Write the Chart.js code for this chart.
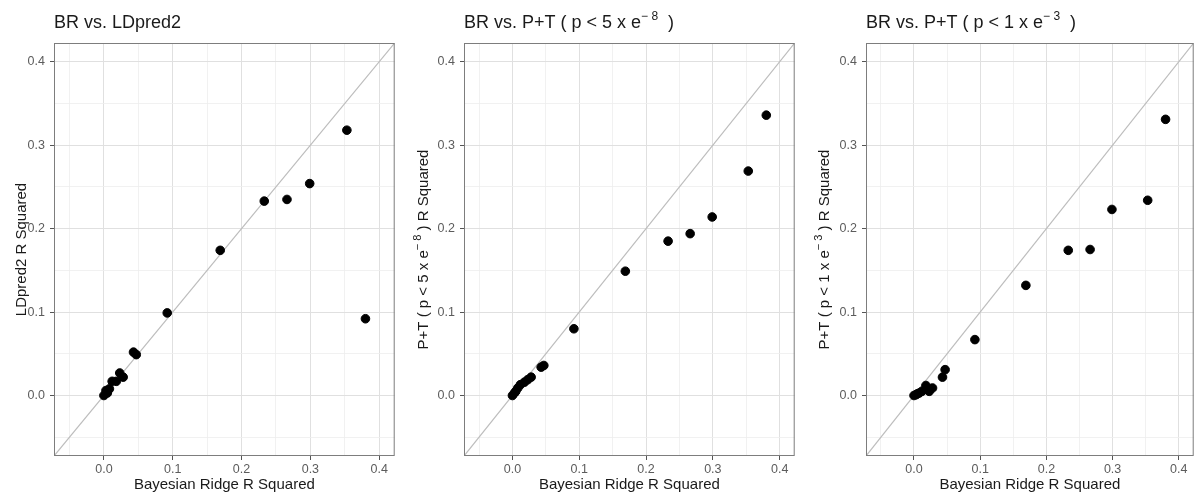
<!DOCTYPE html>
<html>
<head>
<meta charset="utf-8">
<script src="https://cdn.jsdelivr.net/npm/chart.js@4.4.1/dist/chart.umd.min.js"></script>
<style>
  html, body { margin: 0; padding: 0; background: #fff; }
  #wrap { position: relative; width: 1199px; height: 498px; }
  canvas { position: absolute; top: 0; }
</style>
</head>
<body>
<div id="wrap">
  <canvas id="c1" width="400" height="498" style="left:0"></canvas>
  <canvas id="c2" width="400" height="498" style="left:400px"></canvas>
  <canvas id="c3" width="399" height="498" style="left:800px"></canvas>
</div>
<script>
// R squared per trait, Bayesian Ridge on x, the other method on y
const brR2 = [0.380, 0.353, 0.299, 0.266, 0.233, 0.169, 0.092, 0.047, 0.043, 0.028, 0.023, 0.018, 0.012, 0.008, 0.005, 0.003, 0.000];
const ldpred2R2 = [0.092, 0.318, 0.254, 0.235, 0.233, 0.174, 0.099, 0.049, 0.052, 0.022, 0.027, 0.017, 0.017, 0.008, 0.003, 0.006, 0.000];
const pt5e8R2 = [0.336, 0.269, 0.214, 0.194, 0.185, 0.149, 0.080, 0.036, 0.034, 0.022, 0.019, 0.016, 0.013, 0.009, 0.005, 0.003, 0.000];
const pt1e3R2 = [0.331, 0.234, 0.223, 0.175, 0.174, 0.132, 0.067, 0.031, 0.022, 0.009, 0.005, 0.012, 0.005, 0.003, 0.002, 0.001, 0.000];

// axis limits (-0.05..0.4 plus ggplot's 5% expansion) and ticks
const axisMin = -0.0725, axisMax = 0.4225;
const tickValues = [-0.05, 0, 0.05, 0.1, 0.15, 0.2, 0.25, 0.3, 0.35, 0.4];
const majorTicks = [0, 0.1, 0.2, 0.3, 0.4];
const tickLabels = ['0.0', '0.1', '0.2', '0.3', '0.4'];

const xTitle = 'Bayesian Ridge R Squared';
const FONT = '"Liberation Sans", Arial, sans-serif';

function majorIndex(v) {
    return majorTicks.findIndex(m => Math.abs(m - v) < 1e-6);
}

function richWidth(ctx, parts, size, supSize) {
    let w = 0;
    parts.forEach(p => {
        ctx.font = (p.sup ? supSize : size) + 'px ' + FONT;
        w += ctx.measureText(p.t).width;
    });
    return w;
}

function drawRich(ctx, parts, x, y, size, supSize, rise) {
    parts.forEach(p => {
        ctx.font = (p.sup ? supSize : size) + 'px ' + FONT;
        ctx.fillText(p.t, x, p.sup ? y - rise : y);
        x += ctx.measureText(p.t).width;
    });
}

// panel border, panel title and y axis title (with superscripts)
const ggPlugin = {
    id: 'gg',
    afterDraw(chart, args, opts) {
        const ctx = chart.ctx;
        const a = chart.chartArea;
        ctx.save();
        ctx.strokeStyle = '#7d7d7d';
        ctx.lineWidth = 1;
        ctx.strokeRect(a.left + 0.5, a.top + 0.5, a.right - a.left - 1, a.bottom - a.top - 1);

        ctx.fillStyle = '#1a1a1a';
        ctx.textBaseline = 'alphabetic';
        ctx.textAlign = 'left';
        drawRich(ctx, opts.title, a.left, 28, 18, 12, 8);

        const w = richWidth(ctx, opts.yTitle, 15, 11);
        ctx.translate(opts.yTitleX, (a.top + a.bottom) / 2);
        ctx.rotate(-Math.PI / 2);
        drawRich(ctx, opts.yTitle, -w / 2, 5.5, 15, 11, 6.5);
        ctx.restore();
    }
};

function makeChart(id, yValues, title, yTitle, yAxisWidth, padRight, yTitleX) {
    const points = brR2.map((x, i) => ({ x: x, y: yValues[i] }));
    const identity = [{ x: axisMin, y: axisMin }, { x: axisMax, y: axisMax }];

    const gridOpts = {
        color: c => majorIndex(c.tick.value) >= 0 ? '#e0e0e0' : '#eeeeee',
        lineWidth: c => majorIndex(c.tick.value) >= 0 ? 1 : 0.8,
        tickColor: c => majorIndex(c.tick.value) >= 0 ? '#555555' : 'rgba(0,0,0,0)',
        tickLength: 4,
        drawTicks: true
    };
    const tickOpts = {
        font: { family: FONT, size: 12.5 },
        color: '#5c5c5c',
        autoSkip: false,
        maxRotation: 0,
        callback: v => {
            const k = majorIndex(v);
            return k >= 0 ? tickLabels[k] : '';
        }
    };
    const setTicks = s => { s.ticks = tickValues.map(v => ({ value: v })); };

    return new Chart(document.getElementById(id), {
        data: {
            datasets: [
                {
                    type: 'scatter',
                    data: points,
                    backgroundColor: '#000000',
                    borderColor: '#000000',
                    pointRadius: 4.3,
                    pointHoverRadius: 4.3,
                    order: 0
                },
                {
                    type: 'line',
                    data: identity,
                    borderColor: '#bdbdbd',
                    borderWidth: 1.2,
                    pointRadius: 0,
                    order: 1
                }
            ]
        },
        options: {
            responsive: false,
            animation: false,
            layout: { padding: { top: 43, right: padRight, left: 0, bottom: 0 } },
            plugins: {
                legend: { display: false },
                tooltip: { enabled: false },
                gg: { title: title, yTitle: yTitle, yTitleX: yTitleX }
            },
            scales: {
                x: {
                    type: 'linear',
                    min: axisMin,
                    max: axisMax,
                    afterBuildTicks: setTicks,
                    afterFit: s => { s.height = 42; },
                    grid: gridOpts,
                    border: { display: false },
                    ticks: Object.assign({ padding: 2 }, tickOpts),
                    title: {
                        display: true,
                        text: xTitle,
                        color: '#1a1a1a',
                        font: { family: FONT, size: 15 },
                        padding: { top: 0, bottom: 4 }
                    }
                },
                y: {
                    type: 'linear',
                    min: axisMin,
                    max: axisMax,
                    afterBuildTicks: setTicks,
                    afterFit: s => { s.width = yAxisWidth; },
                    grid: gridOpts,
                    border: { display: false },
                    ticks: Object.assign({ padding: 5 }, tickOpts)
                }
            }
        },
        plugins: [ggPlugin]
    });
}

makeChart('c1', ldpred2R2,
    [{ t: 'BR vs. LDpred2' }],
    [{ t: 'LDpred2 R Squared' }],
    54, 3, 20);

makeChart('c2', pt5e8R2,
    [{ t: 'BR vs. P+T ( p < 5 x e' }, { t: '\u2212 8', sup: true }, { t: '  )' }],
    [{ t: 'P+T ( p < 5 x e' }, { t: '\u2212 8', sup: true }, { t: ' ) R Squared' }],
    64, 3, 22);

makeChart('c3', pt1e3R2,
    [{ t: 'BR vs. P+T ( p < 1 x e' }, { t: '\u2212 3', sup: true }, { t: '  )' }],
    [{ t: 'P+T ( p < 1 x e' }, { t: '\u2212 3', sup: true }, { t: ' ) R Squared' }],
    66, 2, 23);
</script>
</body>
</html>
